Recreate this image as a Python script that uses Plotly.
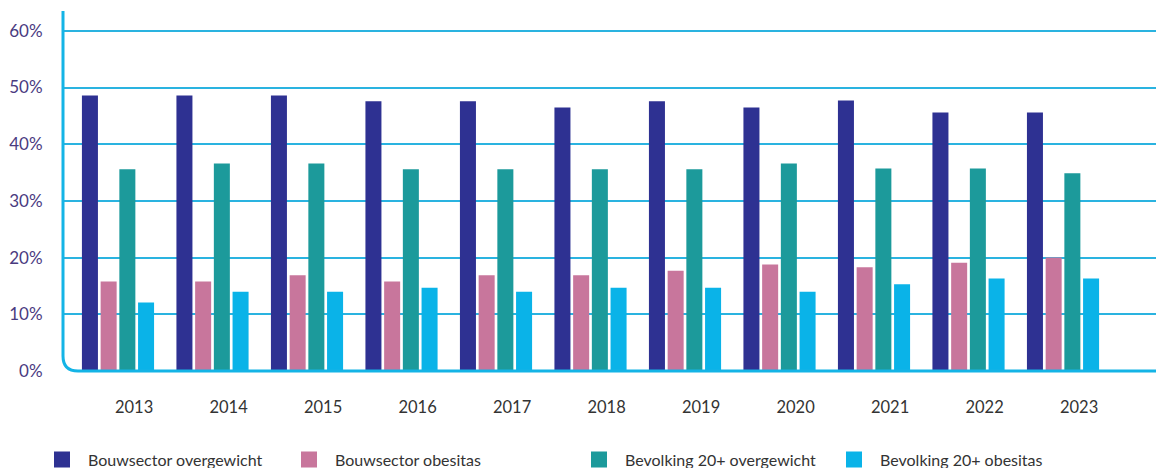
import plotly.graph_objects as go

years = [2013, 2014, 2015, 2016, 2017, 2018, 2019, 2020, 2021, 2022, 2023]
bouw_overgewicht = [48.6, 48.6, 48.6, 47.6, 47.6, 46.5, 47.6, 46.5, 47.7, 45.6, 45.6]
bouw_obesitas = [15.8, 15.8, 16.9, 15.8, 16.9, 16.9, 17.7, 18.8, 18.3, 19.1, 20.0]
bevolking_overgewicht = [35.6, 36.6, 36.6, 35.6, 35.6, 35.6, 35.6, 36.6, 35.7, 35.7, 34.9]
bevolking_obesitas = [12.1, 14.0, 14.0, 14.7, 14.0, 14.7, 14.7, 14.0, 15.3, 16.3, 16.3]

series_names = ["Bouwsector overgewicht", "Bouwsector obesitas",
                "Bevolking 20+ overgewicht", "Bevolking 20+ obesitas"]
series_values = [bouw_overgewicht, bouw_obesitas, bevolking_overgewicht, bevolking_obesitas]
colors = ["#2e3192", "#c8769c", "#1c9a9b", "#0ab3e8"]
y_ticks = [0, 10, 20, 30, 40, 50, 60]
y_ticktext = [f"{v}%" for v in y_ticks]

FONT = "Lato"
legend_names = ["legend", "legend2", "legend3", "legend4"]
legend_x = [36, 283, 573, 828]

fig = go.Figure()
for name, vals, col, lg in zip(series_names, series_values, colors, legend_names):
    fig.add_trace(go.Bar(x=years, y=vals, name=name, marker_color=col,
                         marker_line_width=0, legendgroup=name, showlegend=False,
                         hovertemplate="%{x}: %{y}%<extra>" + name + "</extra>"))
    # legend entry with a larger square swatch
    fig.add_trace(go.Scatter(x=[None], y=[None], mode="markers", name=name,
                             legendgroup=name, legend=lg, hoverinfo="skip",
                             marker=dict(symbol="square", size=17, color=col)))

layout_legends = {}
for lg, lx in zip(legend_names, legend_x):
    layout_legends[lg] = dict(
        x=lx / 1162, xref="container", xanchor="left",
        y=8.5 / 468, yref="container", yanchor="middle",
        orientation="h", bgcolor="rgba(0,0,0,0)", itemwidth=42,
        font=dict(family=FONT, size=16, color="#333333"),
    )

shift = 0.17
fig.update_layout(
    width=1162, height=468,
    margin=dict(l=63, r=6, t=11, b=97, autoexpand=False),
    plot_bgcolor="white", paper_bgcolor="white",
    barmode="group", bargap=0.208, bargroupgap=0.144,
    showlegend=True,
    **layout_legends,
    xaxis=dict(
        range=[2012.418, 2023.984],
        tickvals=[y + shift for y in years],
        ticktext=[str(y) for y in years],
        showgrid=False, zeroline=False, showline=False,
        ticks="outside", ticklen=21, tickcolor="rgba(0,0,0,0)",
        tickfont=dict(family=FONT, size=16.5, color="#333333"),
    ),
    yaxis=dict(
        range=[0, 63.5],
        tickvals=y_ticks, ticktext=y_ticktext,
        showgrid=True, gridcolor="#2ab3e0", gridwidth=1.5,
        zeroline=False, showline=False,
        ticks="outside", ticklen=16, tickcolor="rgba(0,0,0,0)",
        tickfont=dict(family=FONT, size=17, color="#4a3b7f"),
    ),
)

# axis frame with rounded bottom-left corner
pw = 1162 - 63 - 6
ph = 468 - 11 - 97
r = 15
dx, dy = r / pw, r / ph
fig.add_shape(type="path", xref="paper", yref="paper",
              path=f"M 0,1 L 0,{dy} Q 0,0 {dx},0 L 1,0",
              line=dict(color="#14b4e6", width=3), layer="above")

fig.write_html("out.html", config={"displayModeBar": False},
               post_script="document.body.style.margin='0';document.body.style.overflow='hidden';")
